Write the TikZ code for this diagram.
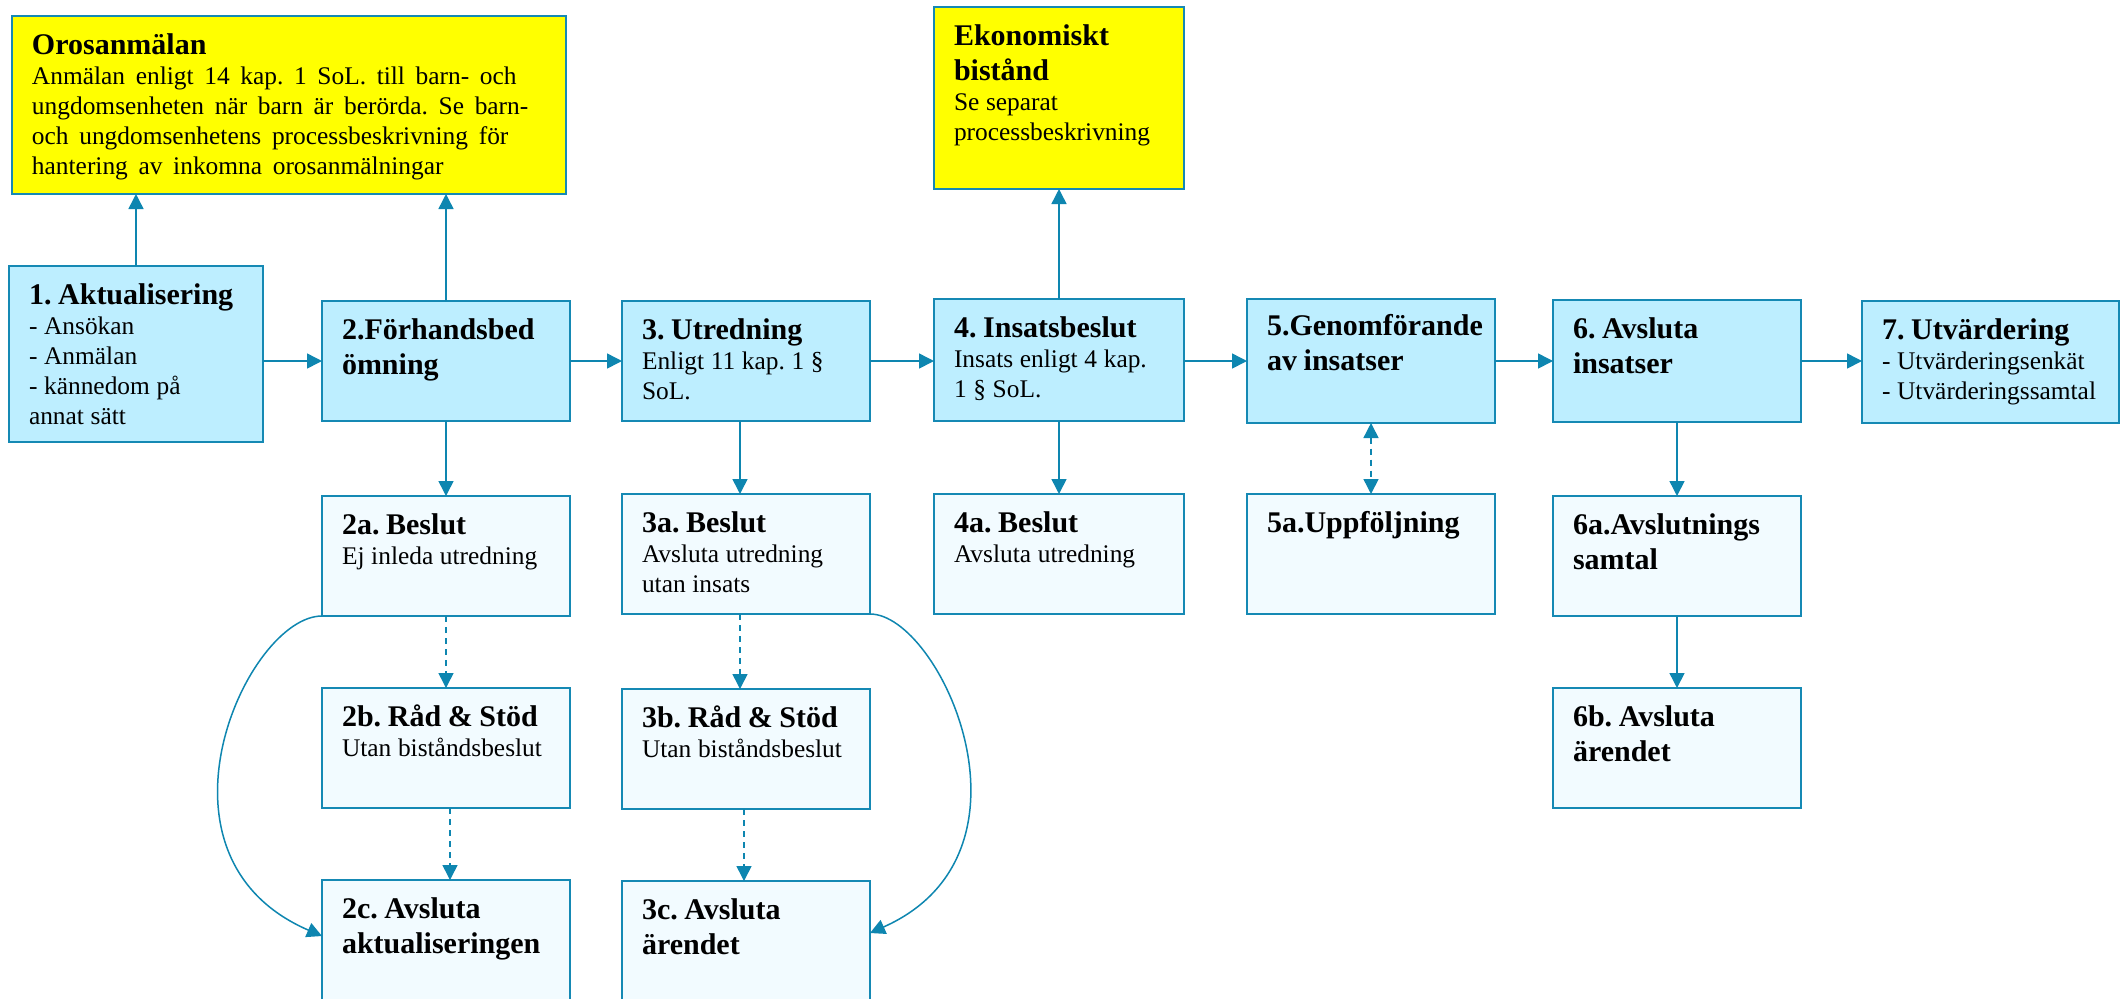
\documentclass[tikz,border=0pt]{standalone}
\usepackage{fontspec}
\setmainfont{Liberation Serif}
\usetikzlibrary{arrows.meta}
\definecolor{bdr}{RGB}{21,137,180}
\definecolor{arr}{RGB}{14,134,176}
\definecolor{mainfill}{RGB}{189,238,255}
\definecolor{subfill}{RGB}{242,251,255}
\definecolor{yfill}{RGB}{255,255,0}
\newcommand\ttl{\fontsize{15}{17.5}\selectfont\bfseries}
\newcommand\bdy{\fontsize{12.7}{15}\selectfont\mdseries}
\newcommand\tst{\rule{0pt}{11pt}}
\frenchspacing
\begin{document}
\begin{tikzpicture}[x=0.5pt,y=-0.5pt,
  bx/.style={draw=bdr, line width=0.9pt, anchor=north west, inner sep=0pt, outer sep=0pt},
  sz/.style 2 args={minimum width=#1*0.5pt, minimum height=#2*0.5pt},
  mainbox/.style={bx, fill=mainfill},
  subbox/.style={bx, fill=subfill},
  ybox/.style={bx, fill=yfill},
  txt/.style={anchor=north west, inner sep=0pt, outer sep=0pt, align=left, text width=#1},
  txt/.default=125pt,
  con/.style={draw=arr, line width=0.75pt, -{Triangle[length=7.5pt,width=7.5pt]}},
  dcon/.style={con, dash pattern=on 3pt off 2.5pt},
]
\useasboundingbox (0,0) rectangle (2125,998);
\clip (0,0) rectangle (2125,998);
\fill[white] (0,0) rectangle (2125,998);

% yellow boxes
\node[ybox, sz={554}{178}] (oro) at (12,16) {};
\node[txt=265pt] (orot) at ([shift={(20,16)}]oro.north west) {\ttl\tst Orosanmälan\par\bdy\spaceskip=0.42em Anmälan enligt 14 kap. 1 SoL. till barn- och\\ungdomsenheten när barn är berörda. Se barn-\\och ungdomsenhetens processbeskrivning för\\hantering av inkomna orosanmälningar\par};
\node[ybox, sz={250}{182}] (eko) at (934,7) {};
\node[txt] (ekot) at ([shift={(20,16)}]eko.north west) {\ttl\tst Ekonomiskt\\bistånd\par\bdy Se separat\\processbeskrivning\par};

% main row
\node[mainbox, sz={254}{176}] (n1) at (9,266) {};
\node[txt] (n1t) at ([shift={(20,16)}]n1.north west) {\ttl\tst 1. Aktualisering\par\bdy - Ansökan\\- Anmälan\\- kännedom på\\annat sätt\par};
\node[mainbox, sz={248}{120}] (n2) at (322,301) {};
\node[txt] (n2t) at ([shift={(20,16)}]n2.north west) {\ttl\tst 2.Förhandsbed\\ömning\par};
\node[mainbox, sz={248}{120}] (n3) at (622,301) {};
\node[txt] (n3t) at ([shift={(20,16)}]n3.north west) {\ttl\tst 3. Utredning\par\bdy Enligt 11 kap. 1 §\\SoL.\par};
\node[mainbox, sz={250}{122}] (n4) at (934,299) {};
\node[txt] (n4t) at ([shift={(20,16)}]n4.north west) {\ttl\tst 4. Insatsbeslut\par\bdy Insats enligt 4 kap.\\1 § SoL.\par};
\node[mainbox, sz={248}{124}] (n5) at (1247,299) {};
\node[txt] (n5t) at ([shift={(20,14)}]n5.north west) {\ttl\tst 5.Genomförande\\av insatser\par};
\node[mainbox, sz={248}{122}] (n6) at (1553,300) {};
\node[txt] (n6t) at ([shift={(20,16)}]n6.north west) {\ttl\tst 6. Avsluta\\insatser\par};
\node[mainbox, sz={257}{122}] (n7) at (1862,301) {};
\node[txt] (n7t) at ([shift={(20,16)}]n7.north west) {\ttl\tst 7. Utvärdering\par\bdy - Utvärderingsenkät\\- Utvärderingssamtal\par};

% second row
\node[subbox, sz={248}{120}] (n2a) at (322,496) {};
\node[txt] (n2at) at ([shift={(20,16)}]n2a.north west) {\ttl\tst 2a. Beslut\par\bdy Ej inleda utredning\par};
\node[subbox, sz={248}{120}] (n3a) at (622,494) {};
\node[txt] (n3at) at ([shift={(20,16)}]n3a.north west) {\ttl\tst 3a. Beslut\par\bdy Avsluta utredning\\utan insats\par};
\node[subbox, sz={250}{120}] (n4a) at (934,494) {};
\node[txt] (n4at) at ([shift={(20,16)}]n4a.north west) {\ttl\tst 4a. Beslut\par\bdy Avsluta utredning\par};
\node[subbox, sz={248}{120}] (n5a) at (1247,494) {};
\node[txt] (n5at) at ([shift={(20,16)}]n5a.north west) {\ttl\tst 5a.Uppföljning\par};
\node[subbox, sz={248}{120}] (n6a) at (1553,496) {};
\node[txt] (n6at) at ([shift={(20,16)}]n6a.north west) {\ttl\tst 6a.Avslutnings\\samtal\par};

% third row
\node[subbox, sz={248}{120}] (n2b) at (322,688) {};
\node[txt] (n2bt) at ([shift={(20,16)}]n2b.north west) {\ttl\tst 2b. Råd \& Stöd\par\bdy Utan biståndsbeslut\par};
\node[subbox, sz={248}{120}] (n3b) at (622,689) {};
\node[txt] (n3bt) at ([shift={(20,16)}]n3b.north west) {\ttl\tst 3b. Råd \& Stöd\par\bdy Utan biståndsbeslut\par};
\node[subbox, sz={248}{120}] (n6b) at (1553,688) {};
\node[txt] (n6bt) at ([shift={(20,16)}]n6b.north west) {\ttl\tst 6b. Avsluta\\ärendet\par};

% fourth row
\node[subbox, sz={248}{130}] (n2c) at (322,880) {};
\node[txt] (n2ct) at ([shift={(20,16)}]n2c.north west) {\ttl\tst 2c. Avsluta\\aktualiseringen\par};
\node[subbox, sz={248}{130}] (n3c) at (622,881) {};
\node[txt] (n3ct) at ([shift={(20,16)}]n3c.north west) {\ttl\tst 3c. Avsluta\\ärendet\par};

% connectors
\draw[con] (n1.north) -- (n1.north |- oro.south);
\draw[con] (n2.north) -- (n2.north |- oro.south);
\draw[con] (n4.north) -- (n4.north |- eko.south);
\draw[con] (n1.east |- n2.west) -- (n2.west);
\draw[con] (n2.east) -- (n3.west);
\draw[con] (n3.east) -- (n3.east -| n4.west);
\draw[con] (n4.east |- n3.east) -- (n3.east -| n5.west);
\draw[con] (n5.east |- n3.east) -- (n3.east -| n6.west);
\draw[con] (n6.east |- n3.east) -- (n3.east -| n7.west);
\draw[con] (n2.south) -- (n2a.north);
\draw[con] ([xshift=-3pt]n3.south) -- ([xshift=-3pt]n3a.north);
\draw[con] (n4.south) -- (n4a.north);
\draw[dcon, {Triangle[length=7.5pt,width=7.5pt]}-{Triangle[length=7.5pt,width=7.5pt]}] (n5.south) -- (n5a.north);
\draw[con] (n6.south) -- (n6a.north);
\draw[con] (n6a.south) -- (n6b.north);
\draw[dcon] (n2a.south) -- (n2b.north);
\draw[dcon] ([xshift=2pt]n2b.south) -- ([xshift=2pt]n2c.north);
\draw[dcon] ([xshift=-3pt]n3a.south) -- ([xshift=-3pt]n3b.north);
\draw[dcon] ([xshift=-1pt]n3b.south) -- ([xshift=-1pt]n3c.north);
\draw[con] (n2a.south west) .. controls +(-75,0) and +(-185,-80) .. ([yshift=-28pt]n2c.north west);
\draw[con] (n3a.south east) .. controls +(70,0) and +(180,-80) .. ([yshift=-26pt]n3c.north east);
\end{tikzpicture}
\end{document}
